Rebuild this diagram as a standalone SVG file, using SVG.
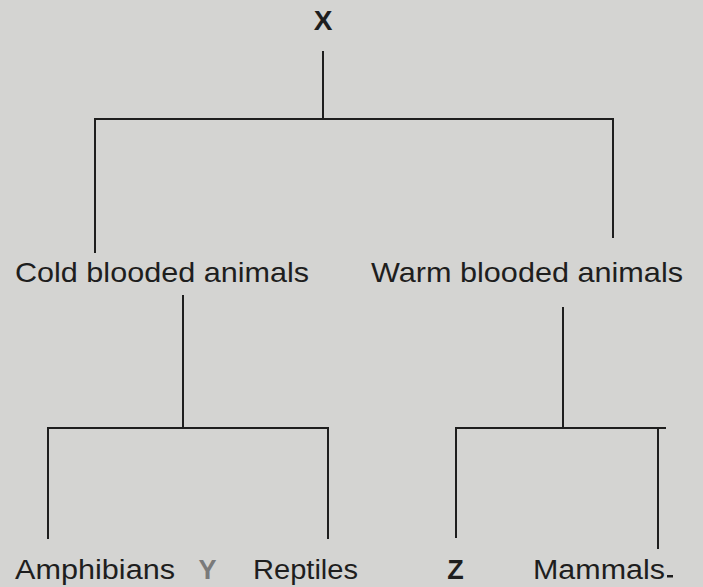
<svg xmlns="http://www.w3.org/2000/svg" width="703" height="587" viewBox="0 0 703 587">
  <style>
    .ln { stroke: #1e1e1e; stroke-width: 2; fill: none; stroke-linecap: square; }
    .t { font-family: "Liberation Sans", Arial, sans-serif; fill: #1e1e1e; }
    .big { font-size: 28px; }
    .sm { font-size: 27px; }
    .bold { font-weight: bold; }
  </style>
  <rect x="0" y="0" width="703" height="587" fill="#d4d4d2"/>
  <g id="connectors">
    <path class="ln" d="M323,52 V119 M95,119 H613 M95,119 V252 M613,119 V237"/>
    <path class="ln" d="M183,296 V428 M48,428 H328 M48,428 V538 M328,428 V538"/>
    <path class="ln" d="M563,308 V428 M456,428 H665 M456,428 V537 M658,428 V548"/>
  </g>
  <g id="node-x">
    <text class="t big bold" x="323" y="30" text-anchor="middle">X</text>
  </g>
  <g id="node-cold">
    <text class="t big" x="15" y="282" textLength="294" lengthAdjust="spacingAndGlyphs">Cold blooded animals</text>
  </g>
  <g id="node-warm">
    <text class="t big" x="371" y="282" textLength="312" lengthAdjust="spacingAndGlyphs">Warm blooded animals</text>
  </g>
  <g id="node-amphibians">
    <text class="t sm" x="15" y="579" textLength="160" lengthAdjust="spacingAndGlyphs">Amphibians</text>
  </g>
  <g id="node-y">
    <text class="t sm bold" x="207.5" y="579" text-anchor="middle" style="fill:#7a7a7a">Y</text>
  </g>
  <g id="node-reptiles">
    <text class="t sm" x="253" y="579" textLength="105" lengthAdjust="spacingAndGlyphs">Reptiles</text>
  </g>
  <g id="node-z">
    <text class="t sm bold" x="455.5" y="579" text-anchor="middle">Z</text>
  </g>
  <g id="node-mammals">
    <text class="t sm" x="533" y="579" textLength="132" lengthAdjust="spacingAndGlyphs">Mammals</text>
    <rect x="667" y="575" width="6" height="2.5" fill="#1e1e1e"/>
  </g>
</svg>
